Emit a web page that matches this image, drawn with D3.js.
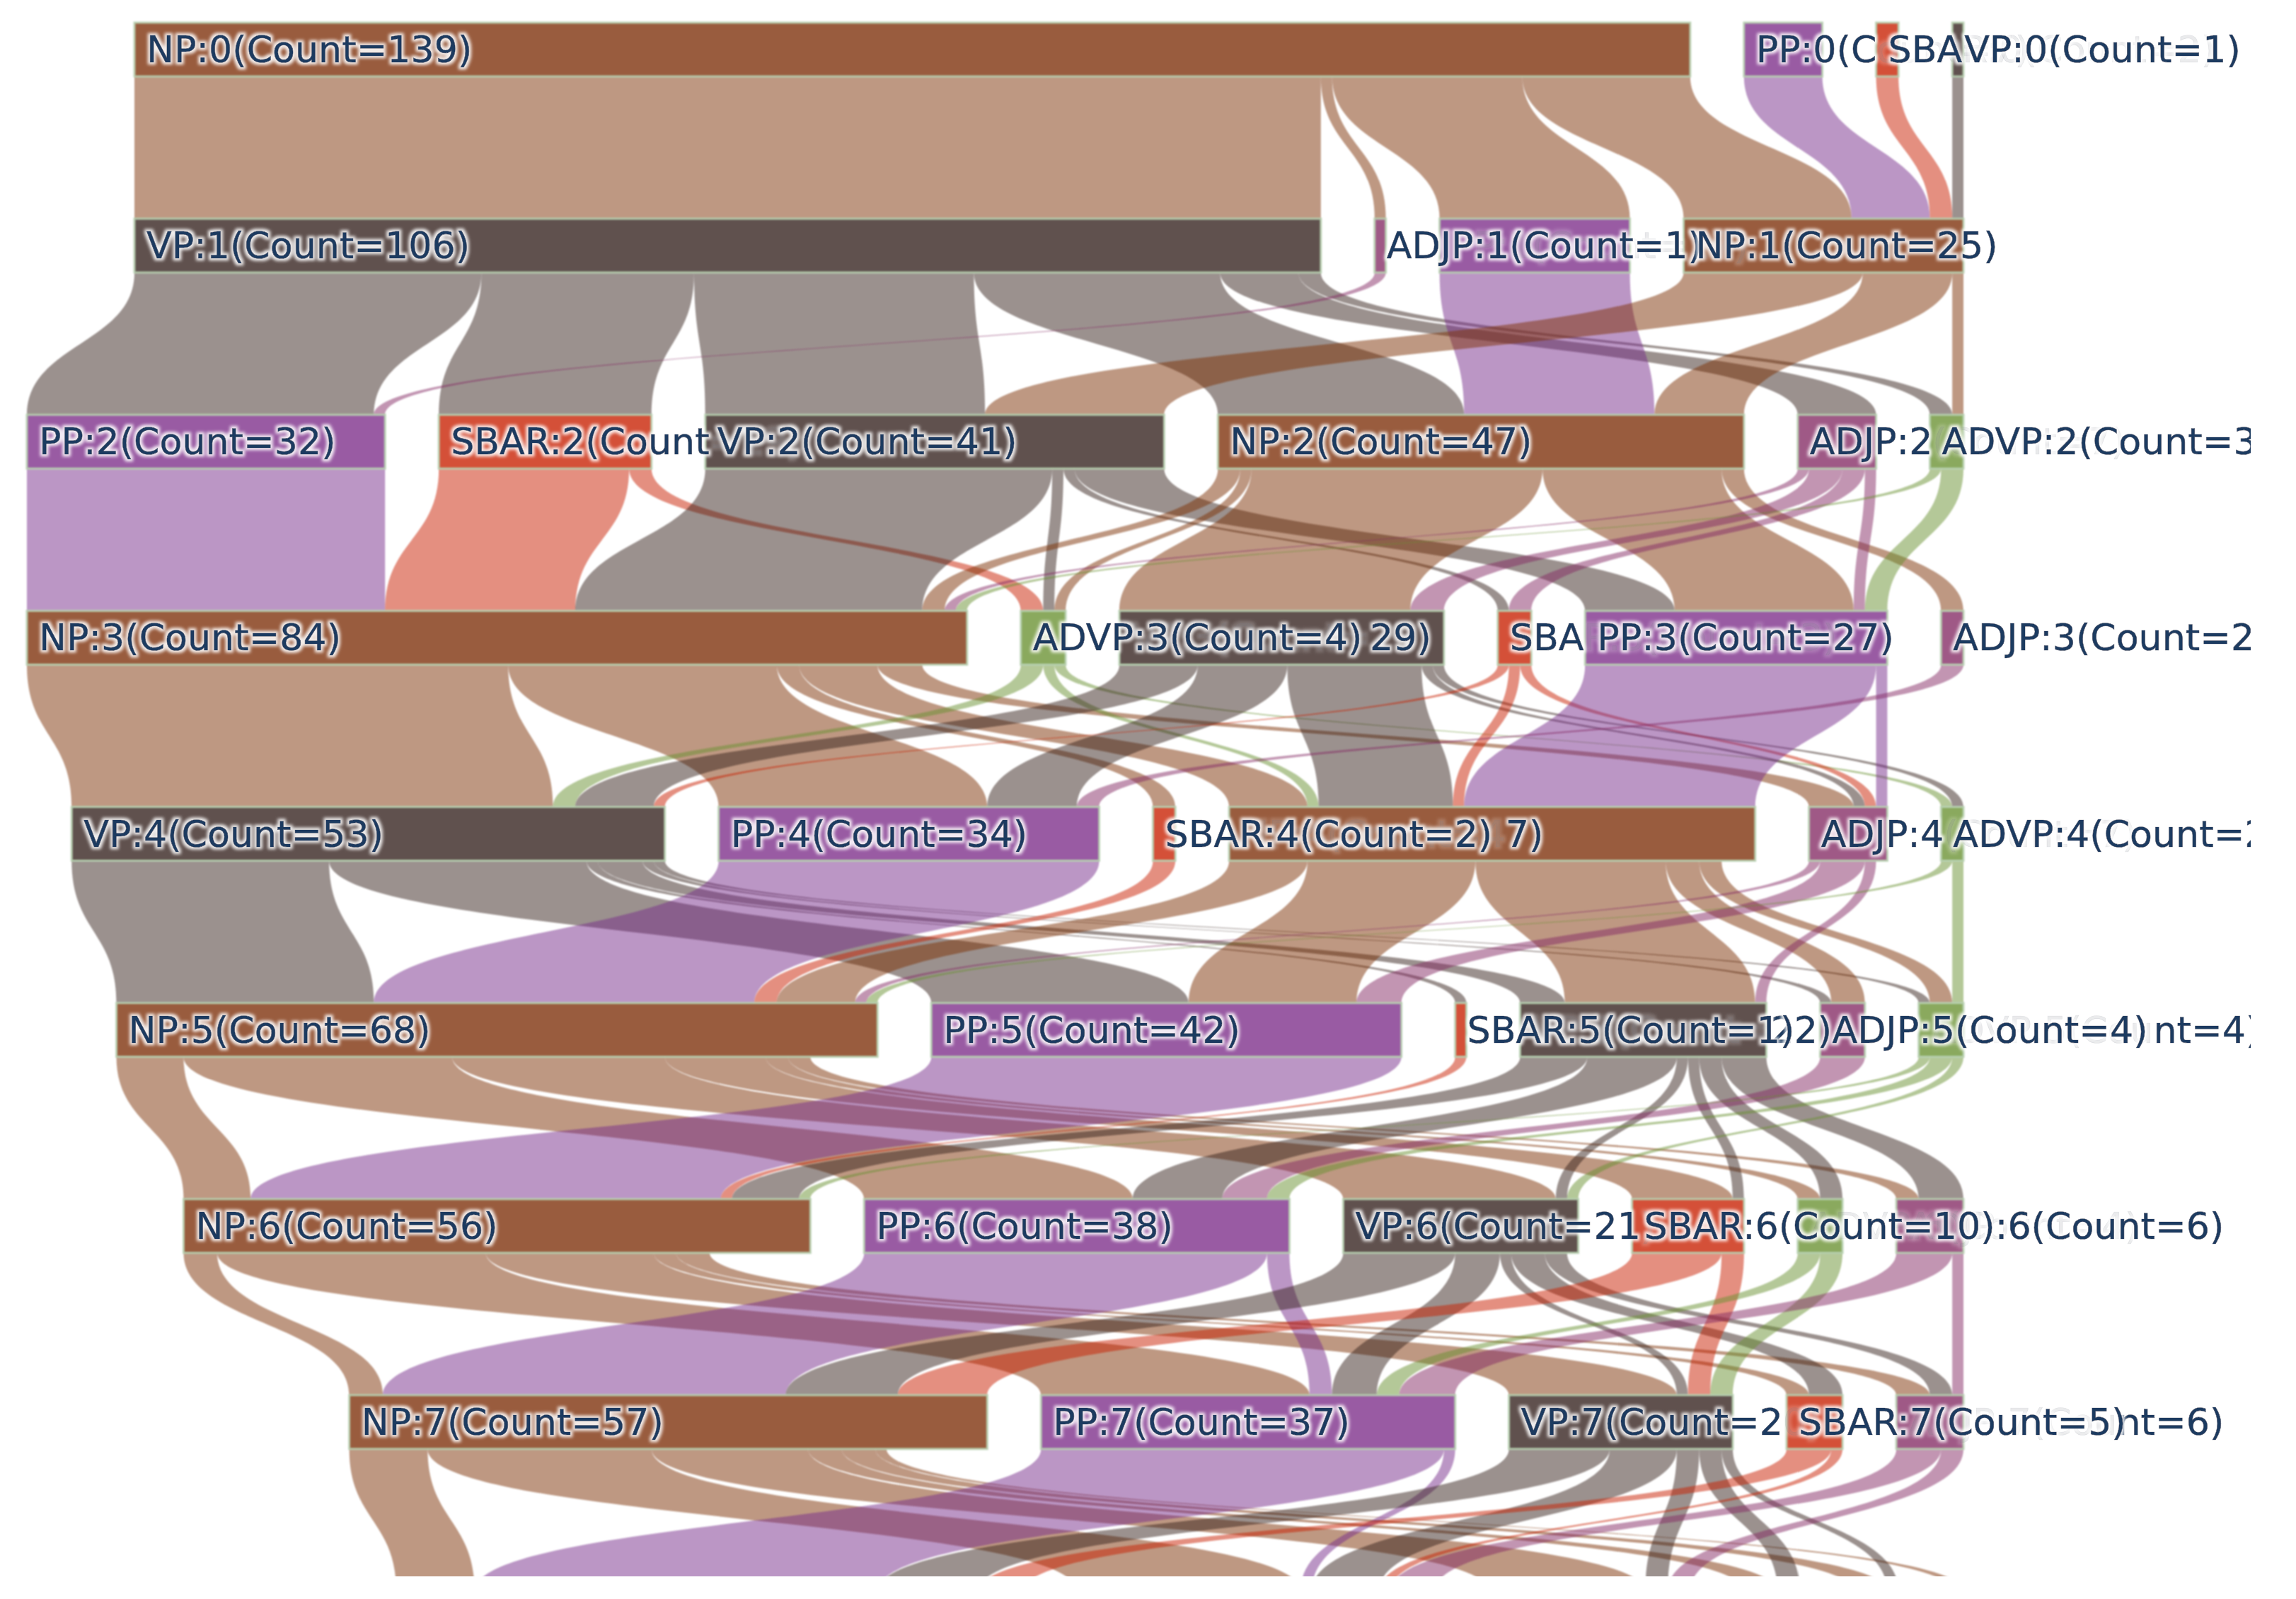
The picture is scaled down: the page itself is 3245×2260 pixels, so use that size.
<!DOCTYPE html>
<html><head><meta charset="utf-8">
<style>html,body{margin:0;padding:0;background:#fff}svg{display:block}
.marks{filter:blur(0.8px)}
text{font-family:"DejaVu Sans",sans-serif;font-size:52.2px;fill:#1f3a60;stroke:#1f3a60;stroke-width:.7px}</style>
<script src="https://cdn.jsdelivr.net/npm/d3@7/dist/d3.min.js"></script>
</head><body><script>
// nodes, per level, left to right
const level0 = [["NP",139],["PP",7],["SBAR",2],["VP",1]];
const level1 = [["VP",106],["ADJP",1],["PP",17],["NP",25]];
const level2 = [["PP",32],["SBAR",19],["VP",41],["NP",47],["ADJP",7],["ADVP",3]];
const level3 = [["NP",84],["ADVP",4],["VP",29],["SBAR",3],["PP",27],["ADJP",2]];
const level4 = [["VP",53],["PP",34],["SBAR",2],["NP",47],["ADJP",7],["ADVP",2]];
const level5 = [["NP",68],["PP",42],["SBAR",1],["VP",22],["ADJP",4],["ADVP",4]];
const level6 = [["NP",56],["PP",38],["VP",21],["SBAR",10],["ADVP",4],["ADJP",6]];
const level7 = [["NP",57],["PP",37],["VP",20],["SBAR",5],["ADJP",6]];
const level8 = [["NP",56],["PP",32],["VP",18],["SBAR",5],["ADJP",4],["ADVP",1]];
const levels = [level0,level1,level2,level3,level4,level5,level6,level7,level8];

// flows [source, target, count] between consecutive levels
const flows0 = [["NP","VP",106],["NP","ADJP",1],["NP","PP",17],["NP","NP",15],["PP","NP",7],["SBAR","NP",2],["VP","NP",1]];
const flows1 = [["VP","PP",31],["VP","SBAR",19],["VP","VP",25],["VP","NP",22],["VP","ADJP",7],["VP","ADVP",2],["ADJP","PP",1],["PP","NP",17],["NP","VP",16],["NP","NP",8],["NP","ADVP",1]];
const flows2 = [["PP","NP",32],["SBAR","NP",17],["SBAR","ADVP",2],["VP","NP",31],["VP","ADVP",1],["VP","SBAR",1],["VP","PP",8],["NP","NP",2],["NP","ADVP",1],["NP","VP",26],["NP","PP",16],["NP","ADJP",2],["ADJP","NP",1],["ADJP","VP",3],["ADJP","SBAR",2],["ADJP","PP",1],["ADVP","NP",1],["ADVP","PP",2]];
const flows3 = [["NP","VP",43],["NP","PP",24],["NP","SBAR",2],["NP","NP",7],["NP","ADJP",4],["ADVP","VP",2],["ADVP","NP",1],["ADVP","ADVP",1],["VP","VP",7],["VP","PP",8],["VP","NP",12],["VP","ADJP",1],["VP","ADVP",1],["SBAR","VP",1],["SBAR","NP",1],["SBAR","ADJP",1],["PP","NP",26],["PP","ADJP",1],["ADJP","PP",2]];
const flows4 = [["VP","NP",23],["VP","PP",23],["VP","SBAR",1],["VP","VP",4],["VP","ADJP",1],["VP","ADVP",1],["PP","NP",34],["SBAR","NP",2],["NP","NP",7],["NP","PP",15],["NP","VP",17],["NP","ADJP",3],["NP","ADVP",2],["ADJP","NP",1],["ADJP","PP",4],["ADJP","VP",1],["ADVP","NP",1],["ADVP","ADVP",1]];
const flows5 = [["NP","NP",6],["NP","PP",24],["NP","VP",19],["NP","SBAR",9],["NP","ADVP",2],["NP","ADJP",2],["PP","NP",42],["SBAR","NP",1],["VP","NP",6],["VP","PP",8],["VP","VP",1],["VP","SBAR",1],["VP","ADVP",2],["VP","ADJP",4],["ADJP","PP",4],["ADVP","NP",1],["ADVP","PP",2],["ADVP","VP",1]];
const flows6 = [["NP","NP",3],["NP","PP",24],["NP","VP",15],["NP","SBAR",2],["NP","ADJP",3],["PP","NP",36],["PP","PP",2],["VP","NP",10],["VP","PP",4],["VP","VP",1],["VP","SBAR",3],["VP","ADJP",2],["SBAR","NP",8],["SBAR","VP",2],["ADVP","PP",2],["ADVP","VP",2],["ADJP","PP",5],["ADJP","ADJP",1]];
const flows7 = [["NP","NP",7],["NP","PP",20],["NP","VP",14],["NP","SBAR",3],["NP","ADJP",3],["NP","ADVP",1],["PP","NP",36],["PP","PP",1],["VP","NP",9],["VP","PP",6],["VP","VP",2],["VP","SBAR",2],["VP","ADJP",1],["SBAR","NP",4],["SBAR","PP",1],["ADJP","PP",4],["ADJP","VP",2]];
const allFlows = [flows0,flows1,flows2,flows3,flows4,flows5,flows6,flows7];

const nodeColors = {NP:"#995c3e",VP:"#60514e",PP:"#995ba3",SBAR:"#d45038",ADVP:"#8aa95e",ADJP:"#9f5986"};
const linkColors = {NP:"#7d3105",VP:"#37231d",PP:"#772d8b",SBAR:"#c91f01",ADVP:"#699131",ADJP:"#852b65"};
// how much of a label stays legible where labels overlap: [leading chars, trailing chars]
const legible = {"0/PP":[6,0],"0/SBAR":[3,0],"1/PP":[0,0],"2/SBAR":[12,0],"2/ADJP":[6,0],"3/VP":[0,3],"3/SBAR":[3,0],"4/NP":[0,2],"4/ADJP":[6,0],"5/VP":[0,3],"5/ADVP":[0,5],"6/VP":[13,0],"6/ADVP":[0,0],"6/ADJP":[0,11],"7/VP":[12,0],"7/ADJP":[0,5]};

const W=3245,H=2260;
const countScale=d3.scaleLinear().domain([0,149]).range([0,2357]);
const levelScale=d3.scaleLinear().domain([0,8]).range([32,2249]);
const thickness=76,pad=76,rightEdge=2775,clipRight=3181,clipBottom=2228;
const svg=d3.select("body").append("svg").attr("width",W).attr("height",H).attr("viewBox",`0 0 ${W} ${H}`);
const defs=svg.append("defs");
defs.append("clipPath").attr("id","plotClip").append("rect").attr("width",clipRight).attr("height",clipBottom);
// white glow behind each label
const glow=defs.append("filter").attr("id","glow").attr("x","-5%").attr("y","-30%").attr("width","110%").attr("height","160%");
glow.append("feMorphology").attr("in","SourceAlpha").attr("operator","dilate").attr("radius",2.5).attr("result","d");
glow.append("feGaussianBlur").attr("in","d").attr("stdDeviation",2).attr("result","b");
glow.append("feFlood").attr("flood-color","#fff").attr("flood-opacity",.9).attr("result","f");
glow.append("feComposite").attr("in","f").attr("in2","b").attr("operator","in").attr("result","h");
glow.append("feGaussianBlur").attr("in","SourceGraphic").attr("stdDeviation",.7).attr("result","t");
const merge=glow.append("feMerge");
merge.append("feMergeNode").attr("in","h");merge.append("feMergeNode").attr("in","t");
const root=svg.append("g").attr("clip-path","url(#plotClip)");

// layout nodes: rows are right aligned
const nodes=levels.map((lvl,r)=>{
  const total=d3.sum(lvl,d=>d[1]);
  let x=rightEdge-countScale(total)-pad*(lvl.length-1);
  return lvl.map(([name,count],i)=>{
    const n={name,count,row:r,index:i,x0:x,x1:x+countScale(count),y0:levelScale(r),y1:levelScale(r)+thickness,out:0,inn:0};
    x=n.x1+pad;return n;
  });
});
const find=(r,name)=>nodes[r].find(n=>n.name===name);
const links=[];
allFlows.forEach((fl,r)=>fl.forEach(([s,t,c])=>links.push({s:find(r,s),t:find(r+1,t),c})));
// stack links at each node ordered by the other end's position
nodes.flat().forEach(n=>{
  links.filter(l=>l.s===n).sort((a,b)=>a.t.index-b.t.index).forEach(l=>{l.sx=n.x0+n.out;n.out+=countScale(l.c);});
  links.filter(l=>l.t===n).sort((a,b)=>a.s.index-b.s.index).forEach(l=>{l.tx=n.x0+n.inn;n.inn+=countScale(l.c);});
});
const ribbon=l=>{
  const w=countScale(l.c),y0=l.s.y1,y1=l.t.y0,ym=(y0+y1)/2;
  const p=d3.path();
  p.moveTo(l.sx,y0);p.bezierCurveTo(l.sx,ym,l.tx,ym,l.tx,y1);
  p.lineTo(l.tx+w,y1);p.bezierCurveTo(l.tx+w,ym,l.sx+w,ym,l.sx+w,y0);p.closePath();
  return p.toString();
};
const marks=root.append("g").attr("class","marks");
marks.append("g").selectAll("path").data(links).join("path")
  .attr("d",ribbon).attr("fill",l=>linkColors[l.s.name]).attr("fill-opacity",.5);
marks.append("g").selectAll("rect").data(nodes.flat()).join("rect")
  .attr("x",n=>n.x0).attr("y",n=>n.y0).attr("width",n=>n.x1-n.x0).attr("height",n=>n.y1-n.y0)
  .attr("fill",n=>nodeColors[n.name]).attr("stroke","#b7d0b0").attr("stroke-width",3).attr("stroke-opacity",.9);

// labels: partly hidden ones first, fully legible ones on top
const labelled=nodes.slice(0,8).flat().sort((a,b)=>(legible[`${b.row}/${b.name}`]?1:0)-(legible[`${a.row}/${a.name}`]?1:0));
const labels=root.append("g").selectAll("text").data(labelled).join("text")
  .attr("x",n=>n.x0+17).attr("y",n=>n.y0+thickness/2+18).attr("filter","url(#glow)");
labels.each(function(n){
  const s=`${n.name}:${n.row}(Count=${n.count})`,k=legible[`${n.row}/${n.name}`]||[s.length,0];
  const parts=[[s.slice(0,k[0]),1],[s.slice(k[0],s.length-k[1]),.16],[s.slice(s.length-k[1]),1]];
  const t=d3.select(this);
  parts.filter(p=>p[0]).forEach(p=>t.append("tspan").text(p[0]).attr("fill-opacity",p[1]).attr("stroke-opacity",p[1]));
});
</script></body></html>
